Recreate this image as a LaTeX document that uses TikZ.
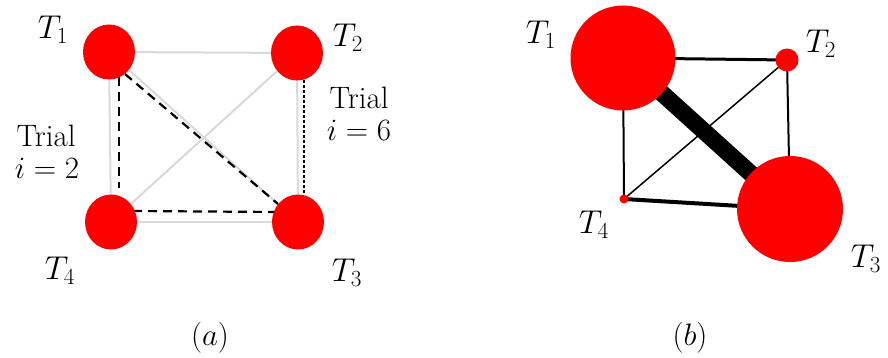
\RequirePackage{fix-cm}
\documentclass[tikz,border=0pt]{standalone}
\usepackage{amsmath}
\usetikzlibrary{shapes.geometric}
\begin{document}
\begin{tikzpicture}[x=1pt,y=-1pt,
  vtx/.style={circle,fill=red,inner sep=0pt,minimum size=#1},
  avtx/.style={ellipse,fill=red,inner sep=0pt,minimum width=52pt,minimum height=55pt},
  lbl/.style={font=\fontsize{33}{38}\selectfont,inner sep=0pt},
  txt/.style={font=\fontsize{31}{34}\selectfont,inner sep=0pt,align=center},
  gedge/.style={draw=black!15,line width=2pt},
  dedge/.style={draw=black,line width=2.2pt,dash pattern=on 9pt off 6pt},
  dotedge/.style={draw=black,line width=2.6pt,dash pattern=on 2.6pt off 2.4pt}
]
\useasboundingbox (0,0) rectangle (888,358);
% panel (a)
\coordinate (a1) at (109,52);
\coordinate (a2) at (297,53);
\coordinate (a3) at (298,222);
\coordinate (a4) at (111,222);
\draw[gedge] (a1) -- (a2);
\draw[gedge] (a2) -- (a3);
\draw[gedge] (a3) -- (a4);
\draw[gedge] (a4) -- (a1);
\draw[gedge] (a1) -- (a3);
\draw[gedge] (a2) -- (a4);
\coordinate (d1) at (119,77);
\coordinate (d4) at (119,188);
\coordinate (e4) at (133,211);
\coordinate (e3) at (277,212);
\coordinate (f1) at (125,74);
\coordinate (f3) at (278,204);
\coordinate (g2) at (304,80);
\coordinate (g3) at (304,193);
\draw[dedge] (d1) -- (d4);
\draw[dedge] (e4) -- (e3);
\draw[dedge] (f1) -- (f3);
\draw[dotedge] (g2) -- (g3);
\node[avtx] (A1) at (a1) {};
\node[avtx] (A2) at (a2) {};
\node[avtx] (A3) at (a3) {};
\node[avtx] (A4) at (a4) {};
\node[lbl] (LA1) at (53,30) {$T_1$};
\node[lbl] (LA2) at (348,38) {$T_2$};
\node[lbl] (LA4) at (60,271) {$T_4$};
\node[lbl] (LA3) at (347,273) {$T_3$};
\node[txt] (TA1) at (46,136) {Trial};
\node[txt] (TA2) at (47,168) {$i=2$};
\node[txt] (TB1) at (359,98) {Trial};
\node[txt] (TB2) at (359,130) {$i=6$};
\node[txt] (CA) at (210,338) {$(a)$};
% panel (b)
\coordinate (b1) at (623,58);
\coordinate (b2) at (787,60);
\coordinate (b3) at (790,209);
\coordinate (b4) at (624,199);
\draw[line width=3pt] (b1) -- (b2);
\draw[line width=2pt] (b1) -- (b4);
\draw[line width=2pt] (b2) -- (b3);
\draw[line width=4pt] (b4) -- (b3);
\draw[line width=1.5pt] (b2) -- (b4);
\draw[line width=17pt] (b1) -- (b3);
\node[vtx=105pt] (B1) at (b1) {};
\node[vtx=23pt] (B2) at (b2) {};
\node[vtx=106pt] (B3) at (b3) {};
\node[vtx=9pt] (B4) at (b4) {};
\node[lbl] (LB1) at (541,35) {$T_1$};
\node[lbl] (LB2) at (821,44) {$T_2$};
\node[lbl] (LB4) at (594,225) {$T_4$};
\node[lbl] (LB3) at (866,259) {$T_3$};
\node[txt] (CB) at (690,338) {$(b)$};
\end{tikzpicture}
\end{document}
